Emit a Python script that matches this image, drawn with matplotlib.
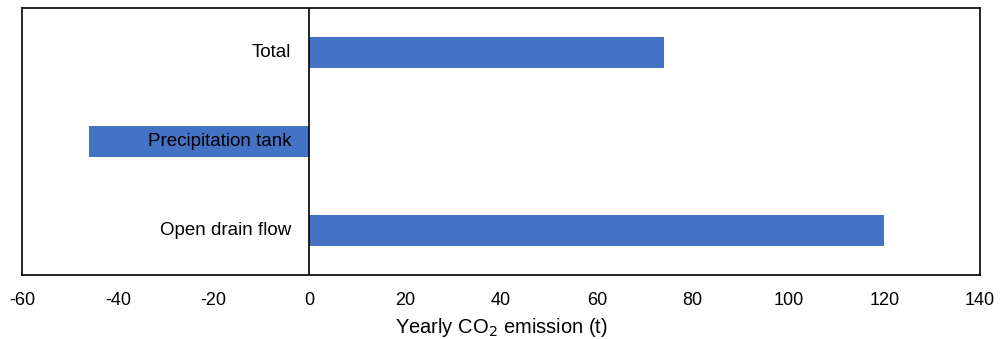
import matplotlib.pyplot as plt

# data
categories = ["Open drain flow", "Precipitation tank", "Total"]
emissions = [120, -46, 74]

plt.rcParams['font.family'] = ['Liberation Sans', 'DejaVu Sans']
plt.rcParams['axes.unicode_minus'] = False

fig = plt.figure(figsize=(10.06, 3.39), dpi=100)
ax = fig.add_axes([22/1006, 1 - 275/339, (980-22)/1006, (275-8)/339])

pos = range(len(categories))
ax.barh(pos, emissions, height=0.35, color="#4472C4", zorder=2)
ax.axvline(0, color="black", lw=1.2, zorder=3)

# category names sit just left of the zero line
for p, name in zip(pos, categories):
    ax.annotate(name, xy=(0, p), xytext=(-13, 0), textcoords="offset points",
                ha="right", va="center", fontsize=13.5, zorder=4)

ax.set_xlim(-60, 140)
ax.set_ylim(-0.5, 2.5)
ax.set_xticks(range(-60, 141, 20))
ax.set_yticks([])
ax.tick_params(axis="x", length=0, labelsize=13, pad=12)
for s in ax.spines.values():
    s.set_linewidth(1.2)
ax.set_xlabel("Yearly CO$_2$ emission (t)", fontsize=14.5, labelpad=5)

fig.savefig("out.png", dpi=100)
